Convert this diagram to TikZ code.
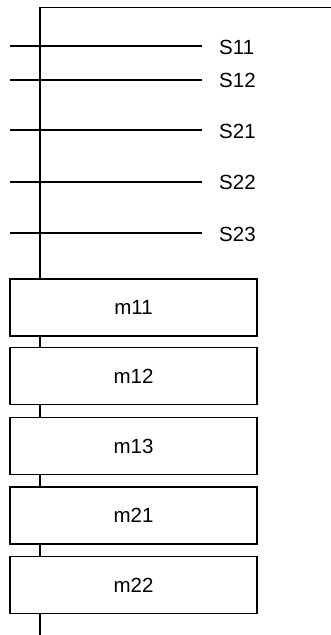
\documentclass[tikz,border=0pt]{standalone}
\usepackage{fontspec}
\setmainfont{Liberation Sans}
\begin{document}
\begin{tikzpicture}[x=1pt,y=-1pt,
  ln/.style={line width=1.5pt,black},
  lab/.style={font=\fontsize{20.5}{20.5}\selectfont, inner sep=0pt, anchor=west},
  mbox/.style={draw, line width=1.5pt, fill=white, minimum width=247pt, minimum height=57pt, inner sep=0pt, font=\fontsize{20.5}{20.5}\selectfont}]
\useasboundingbox (0,0) rectangle (330,635);
\coordinate (top) at (40,7.5);
\coordinate (topr) at (331,7.5);
\coordinate (bot) at (40,636);
% boxes
\node[mbox] (m11) at (133.5,307.5) {m11};
\node[mbox] (m12) at (133.5,376) {m12};
\node[mbox] (m13) at (133.5,446) {m13};
\node[mbox] (m21) at (133.5,515.5) {m21};
\node[mbox] (m22) at (133.5,585) {m22};
% spine
\draw[ln] (topr) -- (top) -- (top |- m11.north);
\draw[ln] (m11.south -| top) -- (m12.north -| top);
\draw[ln] (m12.south -| top) -- (m13.north -| top);
\draw[ln] (m13.south -| top) -- (m21.north -| top);
\draw[ln] (m21.south -| top) -- (m22.north -| top);
\draw[ln] (m22.south -| top) -- (bot);
% signal labels
\node[lab] (s11) at (219,47) {S11};
\node[lab] (s12) at (219,80.5) {S12};
\node[lab] (s21) at (219,131) {S21};
\node[lab] (s22) at (219,182.5) {S22};
\node[lab] (s23) at (219,234) {S23};
\coordinate (a11) at (10,46);
\coordinate (a12) at (10,80);
\coordinate (a21) at (10,130);
\coordinate (a22) at (10,182);
\coordinate (a23) at (10,233);
\draw[ln] (a11) -- (a11 -| 202,0);
\draw[ln] (a12) -- (a12 -| 202,0);
\draw[ln] (a21) -- (a21 -| 202,0);
\draw[ln] (a22) -- (a22 -| 202,0);
\draw[ln] (a23) -- (a23 -| 202,0);
\end{tikzpicture}
\end{document}
